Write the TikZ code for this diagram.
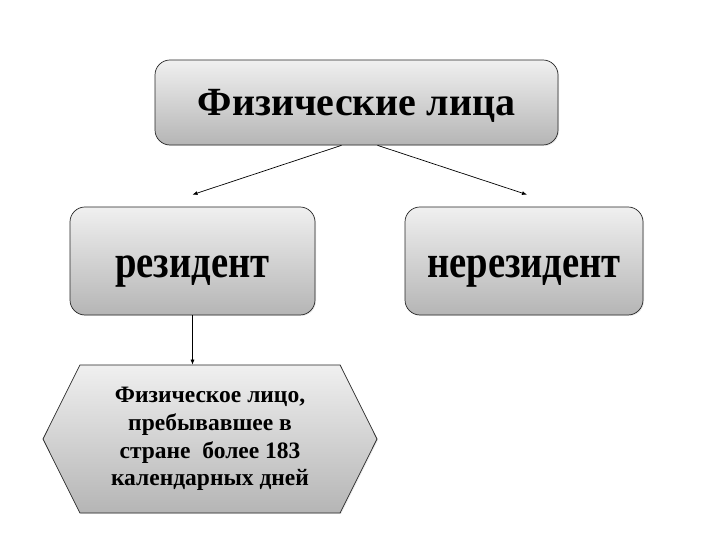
\documentclass[tikz,border=0pt]{standalone}
\usepackage{fontspec}
\newfontfamily\timesfont{Liberation Serif}
\usetikzlibrary{positioning,shapes.symbols,arrows.meta,shadows}
\tikzset{
  grbox/.style={draw=black!85, line width=0.7pt, rounded corners=15pt,
    top color=gray!12, bottom color=gray!58,
    drop shadow={opacity=0.18, shadow xshift=1pt, shadow yshift=-1pt},
    align=center, inner sep=0pt},
  hexbox/.style={grbox, rounded corners=0pt, signal, signal to=west and east,
    signal pointer angle=127},
  link/.style={line width=0.7pt, -{Latex[length=5pt,width=4pt]}}
}

\begin{document}
\begin{tikzpicture}[x=1pt, y=1pt]
        \useasboundingbox (0,0) rectangle (720,540);
        % top
        \node[grbox, minimum width=403pt, minimum height=85pt,
            font=\timesfont\bfseries\fontsize{40}{44}\selectfont] (phys) at (356.5,437.5)
            {\raisebox{0pt}[\height][0pt]{Физические лица}};
        % second row
        \node[grbox, minimum width=245pt, minimum height=108pt,
            font=\timesfont\bfseries\fontsize{46}{50}\selectfont] (res) at (192.5,279)
            {\raisebox{-6pt}[\height][0pt]{\scalebox{0.84}[1]{резидент}}};
        \node[grbox, minimum width=238pt, minimum height=108pt,
            font=\timesfont\bfseries\fontsize{46}{50}\selectfont] (nonres) at (524,279)
            {\raisebox{-6pt}[\height][0pt]{\scalebox{0.84}[1]{нерезидент}}};
        % bottom
        \node[hexbox, minimum width=334pt, minimum height=148pt,
            font=\timesfont\bfseries\fontsize{23.5}{27.7}\selectfont] (days) at (210,101)
            {Физическое лицо,\\ пребывавшее в\\ стране\ \ более 183\\ календарных дней};
        % arrows
        \coordinate (resTip) at ([yshift=12pt]res.north);
        \coordinate (nonresTip) at ([xshift=3pt,yshift=12pt]nonres.north);
        \draw[link] ([xshift=-15pt]phys.south) -- (resTip);
        \draw[link] ([xshift=21pt]phys.south) -- (nonresTip);
        \draw[link] (res.south) -- (res.south |- days.north);
    \end{tikzpicture}
\end{document}
